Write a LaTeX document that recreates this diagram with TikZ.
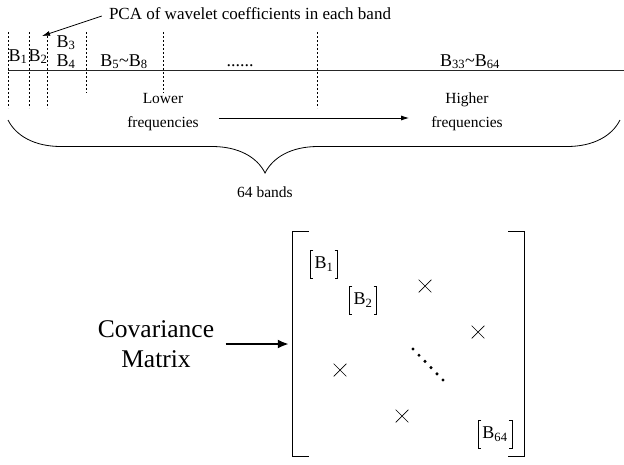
\documentclass[tikz,border=0pt]{standalone}
\usepackage{fontspec}
\setmainfont{Liberation Serif}
\usetikzlibrary{arrows.meta,positioning,calc,shapes.misc,decorations.pathreplacing}
\newcommand{\Bb}[1]{B\textsubscript{#1}}
\tikzset{
  axisline/.style={line width=0.6pt, draw=black!85},
  bandsep/.style={dash pattern=on 2pt off 2pt, line width=0.6pt},
  bandlbl/.style={font=\fontsize{18}{20}\selectfont, inner sep=0pt, anchor=base},
  freqlbl/.style={align=center, font=\fontsize{15.5}{24}\selectfont, inner sep=2pt},
  arr/.style={-{Latex[length=8pt,width=5pt]}, line width=0.8pt},
  arrbig/.style={-{Latex[length=11pt,width=9pt]}, line width=2pt},
  entry/.style={font=\fontsize{18}{20}\selectfont, inner xsep=4pt, minimum height=27pt},
  offdiag/.style={cross out, draw, minimum size=12pt, inner sep=0pt, line width=0.7pt},
  mbrack/.style={line width=0.8pt}
}
\begin{document}
\begin{tikzpicture}[x=1pt,y=1pt]
  \useasboundingbox (0,0) rectangle (624,-464);

  % band axis
  \coordinate (ax0) at (8,-70);
  \coordinate (ax1) at (624,-70);
  \draw[axisline] (ax0) -- (ax1);
  \foreach \x/\yb in {8/108,29/108,47/108,86/93,163/93,317/108}{
    \draw[bandsep] (\x,-32) -- (\x,-\yb);
  }
  \node[bandlbl] (b1) at (18,-61) {\Bb{1}};
  \node[bandlbl] (b2) at (38,-61) {\Bb{2}};
  \node[bandlbl] (b3) at (66,-47) {\Bb{3}};
  \node[bandlbl] (b4) at (66,-66) {\Bb{4}};
  \node[bandlbl] (b58) at (124,-66) {\Bb{5}\textasciitilde\Bb{8}};
  \node[bandlbl] (bdots) at (240,-66) {......};
  \node[bandlbl] (b3364) at (470,-66) {\Bb{33}\textasciitilde\Bb{64}};

  \node[font=\fontsize{17}{20}\selectfont, inner sep=1pt] (pca) at (250,-14) {PCA of wavelet coefficients in each band};
  \coordinate (pcatip) at (42,-36);
  \draw[arr] ([xshift=-6pt,yshift=-2pt]pca.west) -- (pcatip);

  \node[freqlbl] (lower) at (163,-112) {Lower\\frequencies};
  \node[freqlbl] (higher) at (467,-112) {Higher\\frequencies};
  \draw[arr] ([shift={(18pt,-6pt)}]lower.east) -- ([shift={(-20pt,-6pt)}]higher.west);

  % 64 bands brace
  \coordinate (brl) at (8,-120);
  \coordinate (brr) at (620,-120);
  \draw[line width=0.8pt, decorate, decoration={brace, mirror, amplitude=53pt, aspect=0.42}] (brl) -- (brr);
  \node[freqlbl] (bands) at (265,-192) {64 bands};

  % covariance matrix
  \node[align=center, font=\fontsize{25.5}{30}\selectfont] (covlbl) at (156,-344) {Covariance\\Matrix};
  \node[minimum width=231pt, minimum height=224pt, inner sep=0pt] (cov) at (408.5,-344) {};
  \draw[mbrack] ([xshift=16pt]cov.north west) -- (cov.north west) -- (cov.south west) -- ++(16pt,0);
  \draw[mbrack] ([xshift=-16pt]cov.north east) -- (cov.north east) -- (cov.south east) -- ++(-16pt,0);
  \draw[arrbig] ([xshift=8pt]covlbl.east) -- ([xshift=-4pt]cov.west);

  \node[entry] (e1) at (324,-264) {\Bb{1}};
  \node[entry] (e2) at (363,-300) {\Bb{2}};
  \node[entry] (e64) at (495,-434) {\Bb{64}};
  \foreach \n in {e1,e2,e64}{
    \draw[thin] ([xshift=3pt]\n.north west) -| (\n.south west) -- ++(3pt,0);
    \draw[thin] ([xshift=-3pt]\n.north east) -| (\n.south east) -- ++(-3pt,0);
  }
  \node[offdiag] (x1) at (425,-286) {};
  \node[offdiag] (x2) at (478,-332) {};
  \node[offdiag] (x3) at (340,-370) {};
  \node[offdiag] (x4) at (402,-416) {};
  \coordinate (d0) at (413,-349);
  \coordinate (d1) at (443,-380);
  \foreach \i in {0,...,5}{
    \fill ($(d0)!\i/5!(d1)$) circle (1.7pt);
  }
\end{tikzpicture}
\end{document}
